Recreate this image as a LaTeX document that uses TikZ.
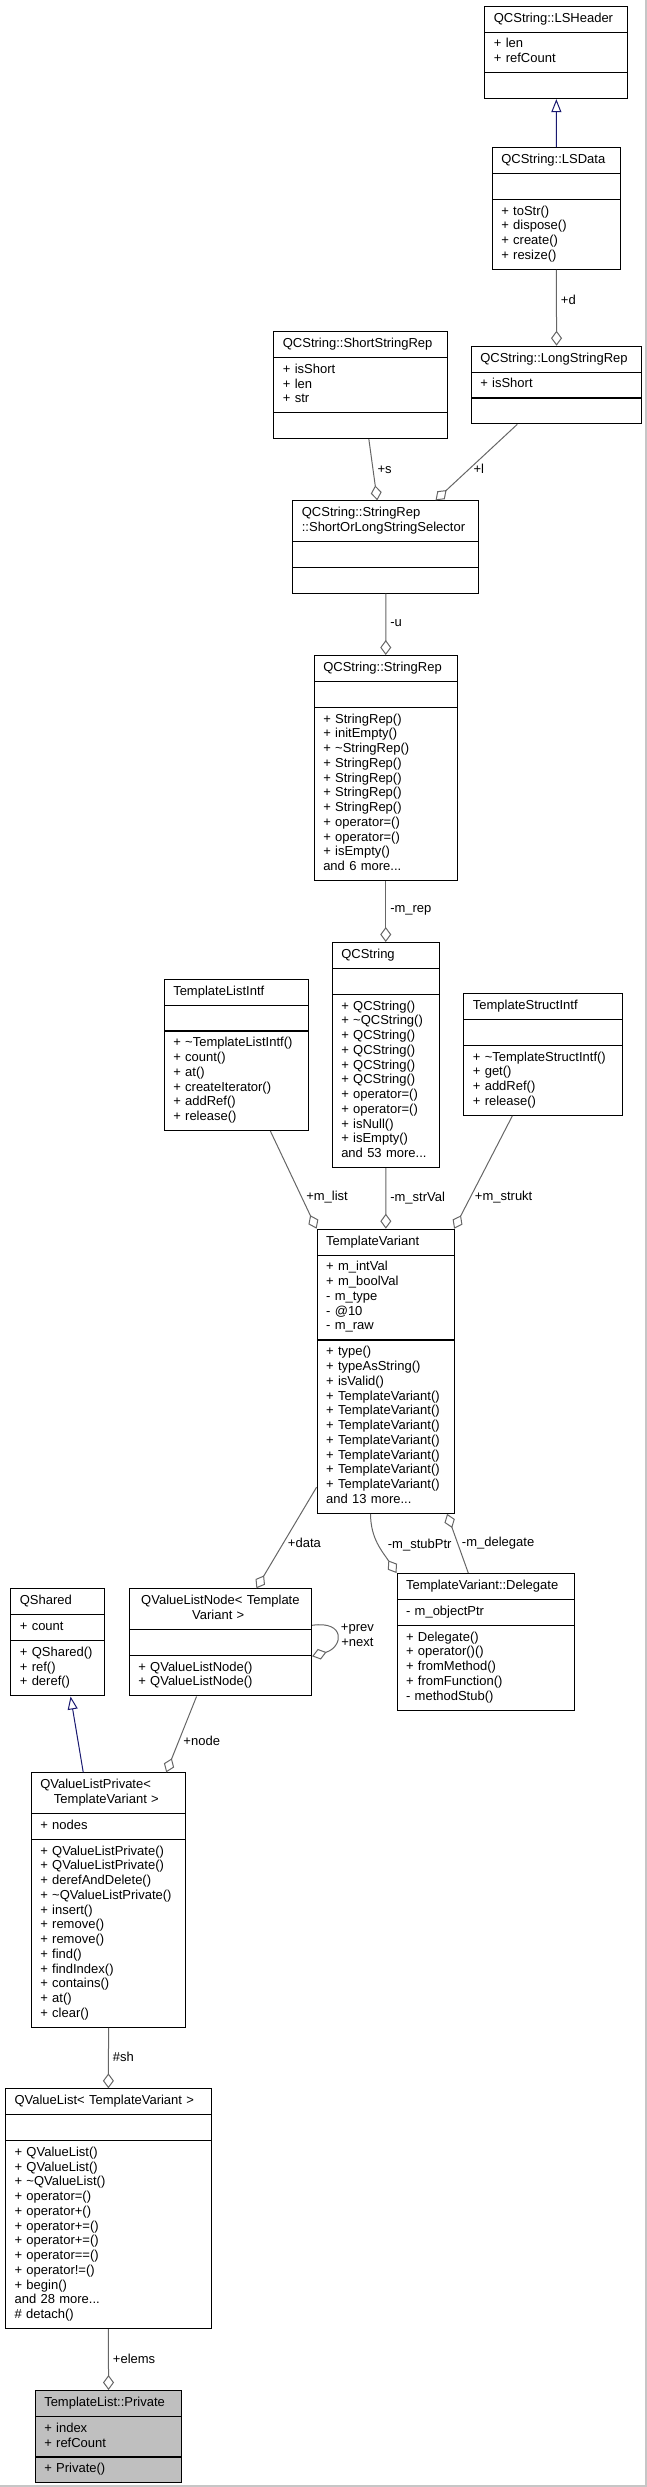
\documentclass[tikz,border=0pt]{standalone}
\usepackage{fontspec}
\setmainfont{Liberation Sans}
\usetikzlibrary{shapes.multipart,arrows.meta}
\definecolor{edgegray}{HTML}{666666}
\definecolor{inhblue}{HTML}{191970}
\definecolor{focusgray}{HTML}{BFBFBF}

\begin{document}
\begin{tikzpicture}
  [x=1pt,y=-1pt,
   every node/.style={font=\fontsize{13}{14.75}\selectfont},
   cls/.style={rectangle split,rectangle split parts=3,draw=black,line width=1.1pt,
     fill=white,anchor=north west,inner xsep=9pt,inner ysep=5pt,align=left,
     execute at begin node=\strut,execute at end node=\strut},
   agg/.style={draw=edgegray,line width=1pt,-{Diamond[open,length=15pt,width=11pt]}},
   inh/.style={draw=inhblue,line width=1pt,-{Triangle[open,length=13pt,width=10pt]}},
   lbl/.style={inner sep=0pt,inner xsep=4pt,anchor=west}]
  \useasboundingbox (0,0) rectangle (647,2487);
  \draw[gray!45,line width=1.5pt] (646.2,0) -- (646.2,2487) (0,2486.2) -- (647,2486.2);

  \node[cls,text width=125pt] (lsh) at (484.3,5.7) {\centering QCString::LSHeader
    \nodepart{two}+ len\\+ refCount\nodepart{three}};
  \node[cls,text width=110.3pt] (lsd) at (491.7,147) {\centering QCString::LSData
    \nodepart{two}\nodepart{three}+ toStr()\\+ dispose()\\+ create()\\+ resize()};
  \node[cls,text width=155.2pt] (ssr) at (273.3,331) {\centering QCString::ShortStringRep
    \nodepart{two}+ isShort\\+ len\\+ str\nodepart{three}};
  \node[cls,text width=152.6pt] (lsr) at (470.7,345.7) {\centering QCString::LongStringRep
    \nodepart{two}+ isShort\nodepart{three}};
  \node[cls,text width=168pt] (sel) at (292.3,500.3) {QCString::StringRep\\::ShortOrLongStringSelector
    \nodepart{two}\nodepart{three}};
  \node[cls,text width=125pt] (srep) at (313.7,655) {\centering QCString::StringRep
    \nodepart{two}\nodepart{three}+ StringRep()\\+ initEmpty()\\+ \textasciitilde StringRep()\\
    + StringRep()\\+ StringRep()\\+ StringRep()\\+ StringRep()\\+ operator=()\\+ operator=()\\
    + isEmpty()\\and 6 more...};
  \node[cls,text width=89pt] (qcs) at (331.7,942) {\centering QCString
    \nodepart{two}\nodepart{three}+ QCString()\\+ \textasciitilde QCString()\\+ QCString()\\
    + QCString()\\+ QCString()\\+ QCString()\\+ operator=()\\+ operator=()\\+ isNull()\\
    + isEmpty()\\and 53 more...};
  \node[cls,text width=126.3pt] (tli) at (163.7,978.7) {\centering TemplateListIntf
    \nodepart{two}\nodepart{three}+ \textasciitilde TemplateListIntf()\\+ count()\\+ at()\\
    + createIterator()\\+ addRef()\\+ release()};
  \node[cls,text width=141pt] (tsi) at (463.3,993) {\centering TemplateStructIntf
    \nodepart{two}\nodepart{three}+ \textasciitilde TemplateStructIntf()\\+ get()\\+ addRef()\\
    + release()};
  \node[cls,text width=119.4pt] (tv) at (316.6,1228.7) {\centering TemplateVariant
    \nodepart{two}+ m\_intVal\\+ m\_boolVal\\- m\_type\\- @10\\- m\_raw
    \nodepart{three}+ type()\\+ typeAsString()\\+ isValid()\\+ TemplateVariant()\\
    + TemplateVariant()\\+ TemplateVariant()\\+ TemplateVariant()\\+ TemplateVariant()\\
    + TemplateVariant()\\+ TemplateVariant()\\and 13 more...};
  \node[cls,text width=75.7pt] (qsh) at (10.3,1588.3) {\centering QShared
    \nodepart{two}+ count\nodepart{three}+ QShared()\\+ ref()\\+ deref()};
  \node[cls,text width=164.3pt] (qvln) at (128.7,1588.3) {\hspace*{0pt plus 1fil}QValueListNode< Template\\
    \hspace*{0pt plus 1fil}Variant >
    \nodepart{two}\nodepart{three}+ QValueListNode()\\+ QValueListNode()};
  \node[cls,text width=159.5pt] (del) at (396.5,1573) {\centering TemplateVariant::Delegate
    \nodepart{two}- m\_objectPtr\nodepart{three}+ Delegate()\\+ operator()()\\+ fromMethod()\\
    + fromFunction()\\- methodStub()};
  \node[cls,text width=136.6pt] (qvlp) at (30.7,1772.3) {QValueListPrivate<\\\hspace*{0pt plus 1fil}TemplateVariant >
    \nodepart{two}+ nodes\nodepart{three}+ QValueListPrivate()\\+ QValueListPrivate()\\
    + derefAndDelete()\\+ \textasciitilde QValueListPrivate()\\+ insert()\\+ remove()\\+ remove()\\
    + find()\\+ findIndex()\\+ contains()\\+ at()\\+ clear()};
  \node[cls,text width=187.7pt] (qvl) at (5,2088.3) {\centering QValueList< TemplateVariant >
    \nodepart{two}\nodepart{three}+ QValueList()\\+ QValueList()\\+ \textasciitilde QValueList()\\
    + operator=()\\+ operator+()\\+ operator+=()\\+ operator+=()\\+ operator==()\\+ operator!=()\\
    + begin()\\and 28 more...\\\# detach()};
  \node[cls,text width=128.6pt,fill=focusgray] (priv) at (34.7,2390) {\centering TemplateList::Private
    \nodepart{two}+ index\\+ refCount\nodepart{three}+ Private()};

  \draw[inh] (lsd.north) -- (lsh.south);
  \draw[inh] ([xshift=-25.3pt]qvlp.north) -- ([xshift=12.85pt]qsh.south);

  \foreach \from/\fx/\to/\tx/\nm/\lab/\p in {lsd.south/0/lsr.north/0/l-d/+d/.4,
    ssr.south/8.4/sel.north/-8.6/l-s/+s/.5, lsr.south/-39.3/sel.north/49.7/l-l/+l/.59,
    sel.south/0/srep.north/0/l-u/-u/.48, srep.south/0/qcs.north/0/l-rep/-m\_rep/.48,
    tli.south/34/tv.north west/0/l-list/+m\_list/.68, qcs.south/0/tv.north/0/l-str/-m\_strVal/.49,
    tsi.south/-31/tv.north east/-1/l-strukt/+m\_strukt/.72,
    del.north/-17.5/tv.south east/-8/l-del/-m\_delegate/.51,
    qvln.south/-23.85/qvlp.north/57.7/l-node/+node/.58,
    qvlp.south/0/qvl.north/0/l-sh/\#sh/.48, qvl.south/0/priv.north/0/l-elems/+elems/.48}
    \draw[agg] ([xshift=\fx pt]\from) -- node[lbl,pos=\p] (\nm) {\lab} ([xshift=\tx pt]\to);

  \draw[agg] ([yshift=26.7pt]tv.south west) -- node[lbl,pos=.55] (l-data) {+data} ([xshift=36pt]qvln.north);
  \draw[agg] ([xshift=-15.3pt]tv.south) to[out=-90,in=123] node[lbl,pos=.5,xshift=5pt] (l-stub) {-m\_stubPtr} (del.north west);
  \draw[agg] ([yshift=-37pt]qvln.north east) .. controls +(34,-5) and +(31,-9) .. ([yshift=-68pt]qvln.north east)
    node[lbl,pos=.5,align=center] (l-loop) {+prev\\+next};

\end{tikzpicture}
\end{document}
